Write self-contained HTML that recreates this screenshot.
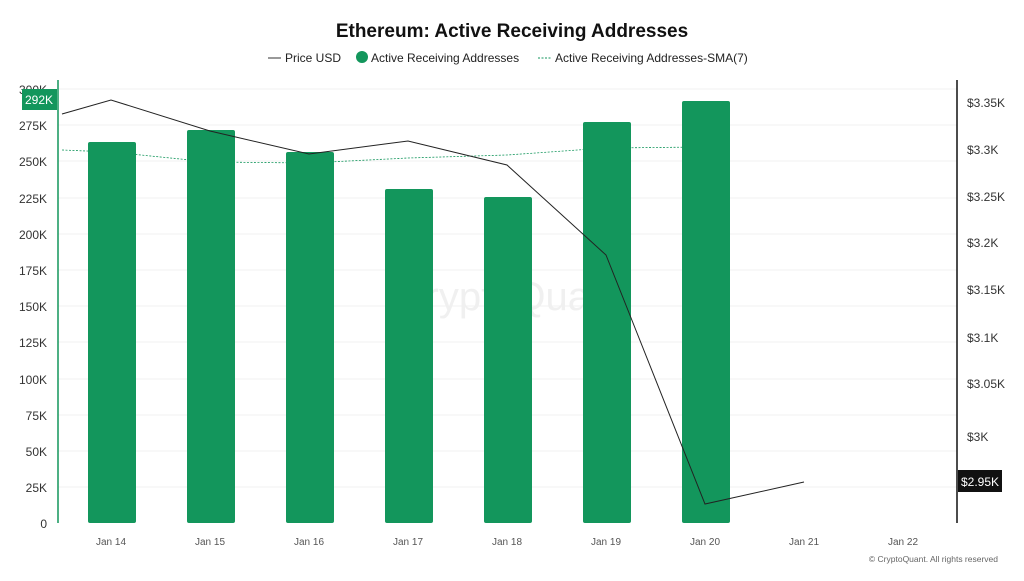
<!DOCTYPE html><html><head><style>body{margin:0;background:#fff;font-family:"Liberation Sans",sans-serif}</style></head><body>
<svg width="1024" height="576" xmlns="http://www.w3.org/2000/svg" font-family="Liberation Sans, sans-serif">
<rect width="1024" height="576" fill="#fff"/>
<text x="512" y="37" text-anchor="middle" font-size="19" font-weight="bold" fill="#111">Ethereum: Active Receiving Addresses</text>
<line x1="268" y1="58" x2="281" y2="58" stroke="#333"/><text x="285" y="62" font-size="12" fill="#222">Price USD</text>
<circle cx="362" cy="57" r="6" fill="#13965c"/><text x="371" y="62" font-size="12" fill="#222">Active Receiving Addresses</text>
<line x1="538" y1="58" x2="551" y2="58" stroke="#13965c" stroke-dasharray="2,1.5"/><text x="555" y="62" font-size="12" fill="#222">Active Receiving Addresses-SMA(7)</text>
<g stroke="#f0f0f0">
<line x1="58" x2="957" y1="89" y2="89"/><line x1="58" x2="957" y1="125" y2="125"/><line x1="58" x2="957" y1="161" y2="161"/><line x1="58" x2="957" y1="198" y2="198"/><line x1="58" x2="957" y1="234" y2="234"/><line x1="58" x2="957" y1="270" y2="270"/><line x1="58" x2="957" y1="306" y2="306"/><line x1="58" x2="957" y1="342" y2="342"/><line x1="58" x2="957" y1="379" y2="379"/><line x1="58" x2="957" y1="415" y2="415"/><line x1="58" x2="957" y1="451" y2="451"/><line x1="58" x2="957" y1="487" y2="487"/>
</g>
<text x="510" y="310" text-anchor="middle" font-size="40" fill="#f0f0f0">CryptoQuant</text>
<polyline points="62,150 111,152 210,162 309,163 408,158 507,155 606,148 705,147" fill="none" stroke="#13965c" stroke-width="0.8" stroke-dasharray="2,1.5"/>
<g fill="#13965c">
<rect x="88" y="142" width="48" height="381" rx="2"/><rect x="187" y="130" width="48" height="393" rx="2"/><rect x="286" y="152" width="48" height="371" rx="2"/><rect x="385" y="189" width="48" height="334" rx="2"/><rect x="484" y="197" width="48" height="326" rx="2"/><rect x="583" y="122" width="48" height="401" rx="2"/><rect x="682" y="101" width="48" height="422" rx="2"/>
</g>
<polyline points="62,114 111,100 210,131 309,154 408,141 507,165 606,255 705,504 804,482" fill="none" stroke="#222" stroke-width="1"/>
<line x1="58" y1="80" x2="58" y2="523" stroke="#13965c" stroke-width="1.5"/>
<line x1="957" y1="80" x2="957" y2="523" stroke="#111" stroke-width="1.5"/>
<g font-size="12" fill="#333" text-anchor="end">
<text x="47" y="94">300K</text><text x="47" y="130">275K</text><text x="47" y="166">250K</text><text x="47" y="203">225K</text><text x="47" y="239">200K</text><text x="47" y="275">175K</text><text x="47" y="311">150K</text><text x="47" y="347">125K</text><text x="47" y="384">100K</text><text x="47" y="420">75K</text><text x="47" y="456">50K</text><text x="47" y="492">25K</text><text x="47" y="528">0</text>
</g>
<rect x="22" y="89" width="35" height="21" fill="#13965c"/><text x="25" y="104" font-size="12" fill="#fff">292K</text>
<g font-size="12" fill="#333">
<text x="967" y="107">$3.35K</text><text x="967" y="154">$3.3K</text><text x="967" y="201">$3.25K</text><text x="967" y="247">$3.2K</text><text x="967" y="294">$3.15K</text><text x="967" y="342">$3.1K</text><text x="967" y="388">$3.05K</text><text x="967" y="441">$3K</text>
</g>
<rect x="958" y="470" width="44" height="22" fill="#111"/><text x="961" y="486" font-size="12" fill="#fff">$2.95K</text>
<g font-size="10" fill="#555" text-anchor="middle">
<text x="111" y="545">Jan 14</text><text x="210" y="545">Jan 15</text><text x="309" y="545">Jan 16</text><text x="408" y="545">Jan 17</text><text x="507" y="545">Jan 18</text><text x="606" y="545">Jan 19</text><text x="705" y="545">Jan 20</text><text x="804" y="545">Jan 21</text><text x="903" y="545">Jan 22</text>
</g>
<text x="998" y="562" text-anchor="end" font-size="8.5" fill="#666">© CryptoQuant. All rights reserved</text>
</svg></body></html>
